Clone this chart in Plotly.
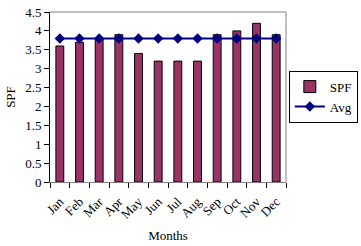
import plotly.graph_objects as go

months = ["Jan", "Feb", "Mar", "Apr", "May", "Jun", "Jul", "Aug", "Sep", "Oct", "Nov", "Dec"]
spf = [3.6, 3.7, 3.8, 3.9, 3.4, 3.2, 3.2, 3.2, 3.9, 4.0, 4.2, 3.9]
avg = [3.8] * 12

font = "Liberation Serif, Times New Roman, serif"

fig = go.Figure()
fig.add_trace(go.Bar(
    x=months, y=spf, name="SPF", width=0.4,
    marker=dict(color="#993366", line=dict(color="black", width=1)),
))
fig.add_trace(go.Scatter(
    x=months, y=avg, name="Avg", mode="lines+markers",
    line=dict(color="#000080", width=2),
    marker=dict(symbol="diamond", size=8, color="#000080"),
))

fig.update_layout(
    width=361, height=246,
    margin=dict(l=50, r=75, t=12, b=64, autoexpand=False),
    paper_bgcolor="white", plot_bgcolor="white",
    font=dict(family=font, size=13, color="black"),
    showlegend=True,
    legend=dict(
        x=1.012, y=0.655, xanchor="left", yanchor="top",
        bordercolor="black", borderwidth=1,
        font=dict(family=font, size=13),
        tracegroupgap=2, itemwidth=30,
    ),
    xaxis=dict(
        type="category", tickangle=-45, showline=True, linecolor="#808080",
        ticks="outside", tickson="boundaries", tickcolor="black", ticklen=5,
        ticklabelstandoff=6, automargin=False,
        title=dict(text="Months", font=dict(family=font, size=13), standoff=10),
        showgrid=False, range=[-0.5, 11.5],
        tickfont=dict(family=font, size=13),
    ),
    yaxis=dict(
        range=[0, 4.5], dtick=0.5, showline=True, linecolor="black",
        ticks="outside", ticklen=5, tickcolor="black", showgrid=False,
        zeroline=False, automargin=False,
        title=dict(text="SPF", font=dict(family=font, size=13), standoff=6),
        tickfont=dict(family=font, size=13),
    ),
    shapes=[
        dict(type="line", xref="paper", yref="paper", x0=0, x1=1, y0=1, y1=1,
             line=dict(color="#808080", width=1)),
        dict(type="line", xref="paper", yref="paper", x0=1, x1=1, y0=0, y1=1,
             line=dict(color="#808080", width=1)),
    ],
)

fig.write_html("out.html")
